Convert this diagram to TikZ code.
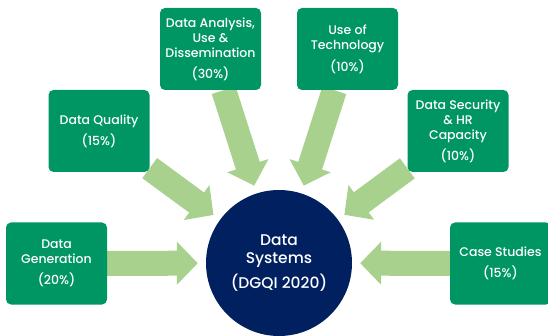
\documentclass[tikz,border=0pt]{standalone}
\usepackage{fontspec}
\setmainfont{Poppins Medium}
\usepackage{xcolor}
\usetikzlibrary{arrows.meta}
\usetikzlibrary{backgrounds}
\definecolor{boxgreen}{RGB}{0,150,100}
\definecolor{arrowgreen}{RGB}{169,209,142}
\definecolor{navy}{RGB}{0,32,96}
\begin{document}
\begin{tikzpicture}[
  x=1pt, y=-1pt,
  font=\fontsize{12.5}{15}\selectfont,
  box/.style={fill=boxgreen, text=white, rounded corners=5pt, align=center, minimum width=101pt, minimum height=82pt, inner sep=2pt},
  hub/.style={circle, fill=navy, text=white, align=center, minimum size=146pt, font=\fontsize{15.5}{18}\selectfont},
  arrow/.style={-{Triangle[width=42pt, length=21pt]}, line width=25pt, arrowgreen, shorten >=8pt}
]
\useasboundingbox (0,0) rectangle (548,336);

\node[hub] (sys)   at (279,263)   {Data\\Systems\\[6pt](DGQI 2020)};

\node[box] (gen)   at (56.5,263.5) {Data\\Generation\\[6pt](20\%)};
\node[box] (qual)  at (99,131)     {Data Quality\\[6pt](15\%)};
\node[box] (ana)   at (210.5,49)   {Data Analysis,\\Use \&\\Dissemination\\[6pt](30\%)};
\node[box] (tech)  at (347.5,49)   {Use of\\Technology\\[6pt](10\%)};
\node[box] (sec)   at (458,131)    {Data Security\\\& HR\\Capacity\\[6pt](10\%)};
\node[box] (cases) at (500.5,263.5) {Case Studies\\[6pt](15\%)};

\begin{scope}[on background layer]
\draw[arrow] (gen) -- (sys);
\draw[arrow] (qual) -- (sys);
\draw[arrow] (ana) -- (sys);
\draw[arrow] (tech) -- (sys);
\draw[arrow] (sec) -- (sys);
\draw[arrow] (cases) -- (sys);
\end{scope}

\end{tikzpicture}
\end{document}
